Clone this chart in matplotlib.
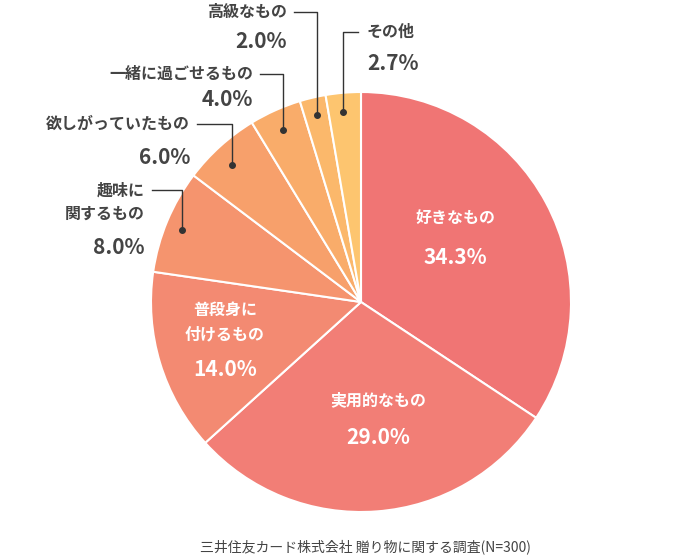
import matplotlib
matplotlib.use("Agg")
import matplotlib.pyplot as plt

categories = ["好きなもの", "実用的なもの", "普段身に\n付けるもの", "趣味に\n関するもの",
              "欲しがっていたもの", "一緒に過ごせるもの", "高級なもの", "その他"]
values = [34.3, 29.0, 14.0, 8.0, 6.0, 4.0, 2.0, 2.7]
pct_labels = ["34.3%", "29.0%", "14.0%", "8.0%", "6.0%", "4.0%", "2.0%", "2.7%"]
colors = ["#F07574", "#F27E76", "#F38A72", "#F5946E", "#F7A06B", "#F9AC6A", "#FBB86B", "#FDC56F"]

FONT = "Noto Sans CJK JP"
plt.rcParams["font.family"] = FONT
H = 557
fig = plt.figure(figsize=(6.81, 5.57), dpi=100)
ax = fig.add_axes([0, 0, 1, 1])

ax.pie(values, colors=colors, startangle=90, counterclock=False, center=(361, H - 302),
       radius=210, wedgeprops=dict(edgecolor="white", linewidth=1.5))
ax.set_xlim(0, 681); ax.set_ylim(0, H); ax.set_aspect("equal"); ax.axis("off")

def Y(y): return H - y
tc = "#444444"
# inside labels
inside = [(455, 218, 258), (378, 400, 437), (225, 322, 370)]
for i, (x, y1, y2) in enumerate(inside):
    ax.text(x, Y(y1), categories[i], color="white", fontsize=11.5, ha="center", va="center", fontweight="bold", linespacing=1.6)
    ax.text(x, Y(y2), pct_labels[i], color="white", fontsize=15, ha="center", va="center", fontweight="bold")

# outside labels: (index, text_x right, text_y, pct_y, line_x, line_y, dot_y)
outside = [(3, 145, 202, 248, 182, 190, 230),
           (4, 190, 124, 157, 232, 124, 165),
           (5, 253, 74, 99, 283, 74, 130),
           (6, 287, 12, 42, 317, 12, 115)]
for i, tx, ty, py, lx, ly, dy in outside:
    ax.text(tx, Y(ty), categories[i], color=tc, fontsize=11.5, ha="right", va="center", fontweight="bold", linespacing=1.6)
    ax.text(tx, Y(py), pct_labels[i], color=tc, fontsize=15, ha="right", va="center", fontweight="bold")
    ax.plot([tx + 7, lx, lx], [Y(ly), Y(ly), Y(dy)], color="#333333", lw=1)
    ax.plot(lx, Y(dy), "o", color="#333333", ms=4)
# その他
ax.text(367, Y(32), categories[7], color=tc, fontsize=11.5, ha="left", va="center", fontweight="bold")
ax.text(367, Y(63), pct_labels[7], color=tc, fontsize=15, ha="left", va="center", fontweight="bold")
ax.plot([358, 343, 343], [Y(32), Y(32), Y(112)], color="#333333", lw=1)
ax.plot(343, Y(112), "o", color="#333333", ms=4)

ax.text(365, Y(547), "三井住友カード株式会社 贈り物に関する調査(N=300)", color=tc, fontsize=10, ha="center", va="center")
fig.savefig("out.png", dpi=100)
